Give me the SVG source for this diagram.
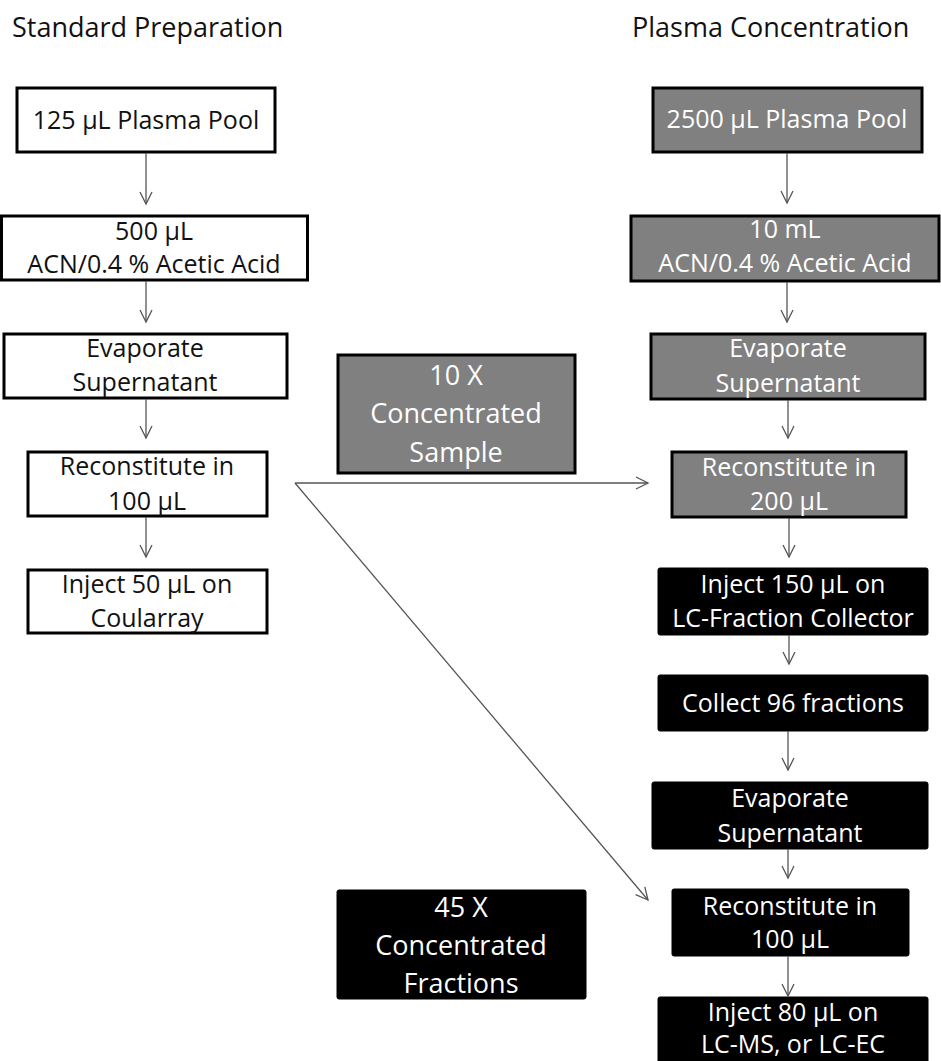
<svg xmlns="http://www.w3.org/2000/svg" width="941" height="1061" viewBox="0 0 941 1061">
<defs>
<marker id="arr" markerUnits="userSpaceOnUse" markerWidth="16" markerHeight="16" viewBox="-14 -8 16 16" refX="0" refY="0" orient="auto">
<path d="M-12,-6 L0,0 L-12,6" fill="none" stroke="#555" stroke-width="1.3"/>
</marker>
<style>
.t{font-family:"Open Sans","Liberation Sans",sans-serif;font-size:25px;text-anchor:middle}
.title{font-family:"Open Sans","Liberation Sans",sans-serif;font-size:27px;fill:#111}
.big{font-family:"Open Sans","Liberation Sans",sans-serif;font-size:27px;text-anchor:middle;fill:#fff}
.w rect{fill:#fff;stroke:#000;stroke-width:3}
.w text{fill:#111}
.g rect{fill:#808080;stroke:#000;stroke-width:3}
.g text{fill:#fff}
.b rect{fill:#000;stroke:#000;stroke-width:1}
.b text{fill:#fff}
.c line{stroke:#555;stroke-width:1.3;marker-end:url(#arr)}
</style>
</defs>
<rect width="941" height="1061" fill="#fff"/>
<text class="title" x="12" y="37">Standard Preparation</text>
<text class="title" x="632" y="37">Plasma Concentration</text>

<g id="l1" class="w"><rect x="17" y="88" width="258" height="64"/><text class="t" x="146" y="129">125 µL Plasma Pool</text></g>
<g id="l2" class="w"><rect x="1.5" y="216" width="306" height="64"/><text class="t" x="154" y="240">500 µL</text><text class="t" x="154" y="273">ACN/0.4 % Acetic Acid</text></g>
<g id="l3" class="w"><rect x="4" y="334" width="283" height="64"/><text class="t" x="145" y="357">Evaporate</text><text class="t" x="145" y="391">Supernatant</text></g>
<g id="l4" class="w"><rect x="28" y="452" width="239" height="64"/><text class="t" x="147" y="475">Reconstitute in</text><text class="t" x="147" y="510">100 µL</text></g>
<g id="l5" class="w"><rect x="28" y="570" width="239" height="63"/><text class="t" x="147" y="593">Inject 50 µL on</text><text class="t" x="147" y="627">Coularray</text></g>

<g id="r1" class="g"><rect x="653" y="88" width="269" height="64"/><text class="t" x="787" y="128">2500 µL Plasma Pool</text></g>
<g id="r2" class="g"><rect x="631" y="216" width="308" height="65"/><text class="t" x="785" y="238">10 mL</text><text class="t" x="785" y="272">ACN/0.4 % Acetic Acid</text></g>
<g id="r3" class="g"><rect x="651" y="334" width="274" height="65"/><text class="t" x="788" y="357">Evaporate</text><text class="t" x="788" y="392">Supernatant</text></g>
<g id="r4" class="g"><rect x="672" y="452" width="234" height="65"/><text class="t" x="789" y="476">Reconstitute in</text><text class="t" x="789" y="510">200 µL</text></g>
<g id="r5" class="b"><rect x="658" y="568" width="270" height="67" rx="2"/><text class="t" x="793" y="593">Inject 150 µL on</text><text class="t" x="793" y="627">LC-Fraction Collector</text></g>
<g id="r6" class="b"><rect x="658" y="675" width="270" height="56" rx="2"/><text class="t" x="793" y="712">Collect 96 fractions</text></g>
<g id="r7" class="b"><rect x="652" y="782" width="276" height="67" rx="2"/><text class="t" x="790" y="807">Evaporate</text><text class="t" x="790" y="842">Supernatant</text></g>
<g id="r8" class="b"><rect x="672" y="889" width="237" height="67" rx="2"/><text class="t" x="790" y="915">Reconstitute in</text><text class="t" x="790" y="948">100 µL</text></g>
<g id="r9" class="b"><rect x="658" y="997" width="270" height="70" rx="2"/><text class="t" x="793" y="1021">Inject 80 µL on</text><text class="t" x="793" y="1053">LC-MS, or LC-EC</text></g>

<g id="m1" class="g"><rect x="338" y="355" width="237" height="118"/><text class="big" x="456" y="385">10 X</text><text class="big" x="456" y="423">Concentrated</text><text class="big" x="456" y="462">Sample</text></g>
<g id="m2" class="b"><rect x="337" y="890" width="249" height="109" rx="2"/><text class="big" x="461" y="917">45 X</text><text class="big" x="461" y="955">Concentrated</text><text class="big" x="461" y="993">Fractions</text></g>

<g id="connectors" class="c">
<line x1="146" y1="153" x2="146" y2="204"/>
<line x1="146" y1="281" x2="146" y2="322"/>
<line x1="146" y1="399" x2="146" y2="438"/>
<line x1="146" y1="517" x2="146" y2="557"/>
<line x1="787" y1="153" x2="787" y2="203"/>
<line x1="787" y1="282" x2="787" y2="322"/>
<line x1="788" y1="400" x2="788" y2="438"/>
<line x1="789" y1="518" x2="789" y2="557"/>
<line x1="789" y1="635" x2="789" y2="664"/>
<line x1="788" y1="731" x2="788" y2="770"/>
<line x1="788" y1="849" x2="788" y2="878"/>
<line x1="788" y1="956" x2="788" y2="996"/>
<line x1="295" y1="483" x2="648" y2="483"/>
<line x1="295" y1="483" x2="648" y2="900"/>
</g>
</svg>
